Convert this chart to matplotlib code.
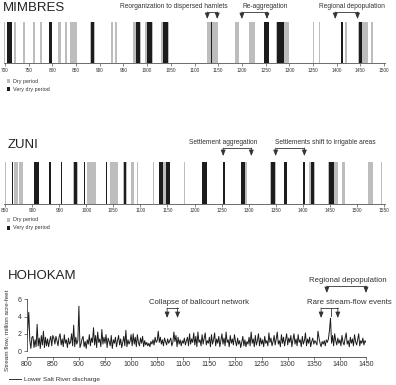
import numpy as np
import matplotlib; matplotlib.use("Agg"); import matplotlib.pyplot as plt
from matplotlib.transforms import blended_transform_factory
from matplotlib.patches import Rectangle
from matplotlib.lines import Line2D

plt.rcParams['font.family'] = ['Liberation Sans', 'DejaVu Sans']

# --- drought periods (start year, end year) ---
mimbres_dry = [(698, 701), (719, 724), (739, 742), (760, 763), (775, 778), (811, 818), (827, 830),
               (837, 853), (880, 890), (924, 928), (933, 936), (970, 988), (995, 1013), (1030, 1047),
               (1126, 1150), (1185, 1193), (1215, 1227), (1272, 1300), (1350, 1352), (1362, 1365),
               (1418, 1421), (1444, 1466), (1473, 1476)]
mimbres_very_dry = [(704, 714), (793, 800), (882, 888), (976, 986), (999, 1010), (1033, 1045),
                    (1134, 1136), (1247, 1258), (1275, 1289), (1290, 1292), (1409, 1414), (1447, 1454)]

zuni_dry = [(849, 851), (866, 873), (876, 883), (975, 984), (1001, 1018), (1044, 1058), (1068, 1076),
            (1082, 1089), (1094, 1096), (1123, 1125), (1134, 1155), (1180, 1182), (1285, 1297),
            (1339, 1351), (1412, 1422), (1447, 1465), (1473, 1479), (1521, 1529), (1545, 1547)]
zuni_very_dry = [(863, 865), (904, 913), (932, 934), (954, 956), (977, 982), (995, 997), (1037, 1039),
                 (1070, 1074), (1135, 1141), (1148, 1154), (1213, 1223), (1252, 1257), (1286, 1294),
                 (1341, 1349), (1366, 1371), (1400, 1404), (1415, 1421), (1448, 1457)]

# --- Lower Salt River discharge, million acre-feet, every 2 years 800-1450 ---
flow_years = np.arange(800, 1451, 2)
flow = [
    1.5, 2.5, 4.5, 1.2, 0.3, 1.6, 1.7, 0.4, 1.3, 0.5, 3.1, 0.6, 1.5, 0.3, 1.8, 0.7, 2.3, 0.4, 1.6, 0.6, 1.4, 0.5, 1.2, 1.7, 0.6,
    1.8, 1.5, 0.8, 1.7, 1.2, 0.6, 1.6, 2.0, 0.7, 1.4, 0.5, 1.9, 0.9, 1.3, 0.4, 1.5, 0.8, 1.0, 2.0, 0.6, 3.0, 0.5, 1.6, 0.8, 1.2,
    5.2, 0.4, 0.8, 1.4, 1.7, 0.5, 1.1, 0.3, 1.3, 0.8, 1.9, 0.6, 1.5, 1.0, 2.7, 0.7, 1.8, 0.4, 2.2, 1.0, 1.4, 0.5, 2.5, 0.8, 1.6,
    0.9, 1.9, 0.4, 1.5, 1.1, 0.6, 1.8, 0.3, 1.3, 0.9, 1.6, 0.5, 1.2, 1.8, 0.7, 1.4, 0.4, 1.0, 1.7, 0.6, 2.4, 0.5, 1.3, 0.8, 1.1,
    1.9, 0.6, 2.0, 0.8, 1.6, 0.5, 1.9, 1.0, 0.6, 1.5, 0.9, 1.7, 0.5, 1.2, 0.7, 1.0, 0.6, 0.9, 0.5, 1.1, 0.8, 1.3, 0.7, 1.6, 1.0,
    1.2, 2.3, 1.0, 1.6, 0.8, 1.3, 0.6, 1.5, 1.1, 0.7, 1.4, 0.9, 1.2, 1.5, 0.6, 1.0, 2.2, 1.1, 1.8, 0.5, 1.6, 0.8, 1.3, 0.6, 1.2,
    0.9, 1.5, 0.7, 1.2, 1.6, 0.6, 2.0, 0.8, 1.4, 1.0, 2.1, 0.7, 1.7, 0.5, 2.2, 1.0, 1.3, 0.6, 1.9, 0.8, 1.5, 2.1, 0.7, 1.2, 0.9,
    1.6, 0.5, 1.9, 0.8, 1.3, 2.1, 0.6, 1.4, 0.9, 1.7, 0.5, 1.2, 2.0, 0.8, 1.5, 0.6, 2.2, 1.0, 1.3, 0.5, 1.8, 0.9, 1.4, 0.7, 1.9,
    1.1, 0.6, 1.5, 0.8, 1.2, 0.4, 1.0, 1.7, 0.6, 1.3, 0.5, 1.1, 0.8, 1.6, 0.6, 2.2, 0.9, 1.4, 0.5, 1.8, 0.7, 1.2, 2.0, 0.6, 1.5,
    0.8, 1.3, 0.5, 1.7, 0.9, 1.2, 0.6, 2.1, 1.0, 1.5, 0.6, 1.1, 1.8, 0.7, 1.4, 2.2, 0.8, 1.2, 0.5, 1.9, 0.9, 1.6, 0.6, 1.3, 2.0,
    0.7, 1.5, 1.0, 1.8, 0.5, 1.3, 2.0, 0.8, 1.4, 0.6, 1.9, 1.0, 1.3, 0.5, 1.7, 0.8, 1.2, 2.1, 0.6, 1.4, 0.9, 1.6, 0.5, 1.1, 1.5,
    0.8, 1.2, 1.0, 0.7, 2.3, 1.5, 0.9, 0.5, 1.1, 0.8, 1.2, 0.6, 1.3, 1.0, 1.4, 2.4, 3.8, 0.9, 1.8, 0.6, 2.0, 1.2, 0.7, 1.5, 0.9,
    1.3, 0.6, 1.8, 1.0, 0.7, 1.5, 2.1, 0.8, 1.2, 0.5, 1.6, 0.9, 1.4, 0.6, 1.9, 1.1, 0.7, 1.3, 2.0, 0.6, 1.2, 0.9, 1.5, 0.7, 1.2,
    1.0,
]

W, H = 396, 385
GRAY, BLACK, INK = '#bdbdbd', '#1c1c1c', '#333333'
fig = plt.figure(figsize=(W / 100, H / 100), dpi=100)

def box(x0, y0, x1, y1):
    # pixel box (top-left origin) -> figure fraction rect
    return [x0 / W, 1 - y1 / H, (x1 - x0) / W, (y1 - y0) / H]

def fpt(x, y):
    return x / W, 1 - y / H

def strip(rect, dry, vdry, xlim, ticks):
    ax = fig.add_axes(rect)
    for s, e in dry:
        ax.bar(s, 1, width=max(e - s, 2), align='edge', color=GRAY, lw=0)
    for s, e in vdry:
        ax.bar(s, 1, width=max(e - s, 2), align='edge', color=BLACK, lw=0)
    ax.set_xlim(*xlim); ax.set_ylim(0, 1)
    for sp in ['left', 'right', 'top']:
        ax.spines[sp].set_visible(False)
    ax.spines['bottom'].set_color('#555555'); ax.spines['bottom'].set_linewidth(0.6)
    ax.set_yticks([])
    ax.set_xticks(ticks)
    ax.tick_params(axis='x', labelsize=3.4, length=2, width=0.5, pad=1.5, colors='#555555', labelcolor=INK)
    return ax

def bracket(ax, x0, x1, ytop, ytip, mid=None):
    tr = blended_transform_factory(ax.transData, fig.transFigure)
    yt = 1 - ytop / H; yp = 1 - ytip / H
    ax.add_line(Line2D([x0, x1], [yt, yt], transform=tr, color=INK, lw=0.6, clip_on=False))
    for x in (x0, x1):
        ax.annotate('', xy=(x, yp), xytext=(x, yt), xycoords=tr, textcoords=tr,
                    arrowprops=dict(arrowstyle='-|>,head_length=0.35,head_width=0.14', color=INK, lw=0.6,
                                    shrinkA=0, shrinkB=0), annotation_clip=False)
    if mid is not None:
        xm, ym = mid
        ax.add_line(Line2D([xm, xm], [yt, 1 - ym / H], transform=tr, color=INK, lw=0.6, clip_on=False))

def legend_boxes(x, y1, y2):
    for yy, c, lab in [(y1, GRAY, 'Dry period'), (y2, BLACK, 'Very dry period')]:
        fig.patches.append(Rectangle(fpt(x, yy + 1.6), 3.2 / W, 3.2 / H, transform=fig.transFigure,
                                     color=c, lw=0))
        fig.text(*fpt(x + 6, yy), lab, fontsize=3.9, color=INK, va='center')

# ---------- MIMBRES ----------
axm = strip(box(4, 21.5, 385, 63), mimbres_dry, mimbres_very_dry, (698, 1502), range(700, 1501, 50))
fig.text(*fpt(3, 8), 'MIMBRES', fontsize=9.5, va='center', color='#222222')
fig.text(*fpt(174, 6), 'Reorganization to dispersed hamlets', fontsize=4.8, ha='center', va='center', color=INK)
bracket(axm, 1127, 1148, 12, 19)
fig.text(*fpt(265, 6), 'Re-aggregation', fontsize=4.8, ha='center', va='center', color=INK)
bracket(axm, 1200, 1253, 12, 19)
fig.text(*fpt(352, 6), 'Regional depopulation', fontsize=4.8, ha='center', va='center', color=INK)
bracket(axm, 1397, 1444, 12, 19)
legend_boxes(7, 81, 89)

# ---------- ZUNI ----------
axz = strip(box(4, 161.5, 385, 203.5), zuni_dry, zuni_very_dry, (848, 1552), range(850, 1551, 50))
fig.text(*fpt(8, 145), 'ZUNI', fontsize=9.5, va='center', color='#222222')
fig.text(*fpt(223, 143), 'Settlement aggregation', fontsize=4.8, ha='center', va='center', color=INK)
bracket(axz, 1253, 1305, 148, 156)
fig.text(*fpt(325, 143), 'Settlements shift to irrigable areas', fontsize=4.8, ha='center', va='center', color=INK)
bracket(axz, 1350, 1403, 148, 156)
legend_boxes(7, 220, 228)

# ---------- HOHOKAM ----------
axh = fig.add_axes(box(26.7, 299.3, 366, 351))
axh.plot(flow_years, flow, color='#1a1a1a', lw=0.7)
axh.set_xlim(800, 1450); axh.set_ylim(0, 6)
axh.set_xticks(range(800, 1451, 50)); axh.set_yticks([0, 2, 4, 6])
for sp in ['right', 'top']:
    axh.spines[sp].set_visible(False)
axh.spines['bottom'].set_position(('outward', 4))
for sp in ['left', 'bottom']:
    axh.spines[sp].set_linewidth(0.6); axh.spines[sp].set_color('#444444')
axh.tick_params(labelsize=5, length=2, width=0.5, pad=1.5, colors='#444444', labelcolor=INK)
fig.text(*fpt(8, 276), 'HOHOKAM', fontsize=9.5, va='center', color='#222222')
fig.text(*fpt(7, 330), 'Stream flow, million acre-feet', fontsize=4.6, rotation=90,
         ha='center', va='center', color=INK)
fig.text(*fpt(199, 302), 'Collapse of ballcourt network', fontsize=5.6, ha='center', va='center', color=INK)
bracket(axh, 1069, 1089, 308, 318)
fig.text(*fpt(348, 280), 'Regional depopulation', fontsize=5.6, ha='center', va='center', color=INK)
bracket(axh, 1375, 1450, 286, 293)
fig.text(*fpt(349, 302), 'Rare stream-flow events', fontsize=5.6, ha='center', va='center', color=INK)
bracket(axh, 1364, 1396, 308, 318, mid=(1383, 316))
fig.add_artist(Line2D([9 / W, 21 / W], [1 - 379 / H] * 2, transform=fig.transFigure, color=INK, lw=0.7))
fig.text(*fpt(24, 379), 'Lower Salt River discharge', fontsize=4.6, va='center', color=INK)

fig.savefig('out.png', dpi=100)
